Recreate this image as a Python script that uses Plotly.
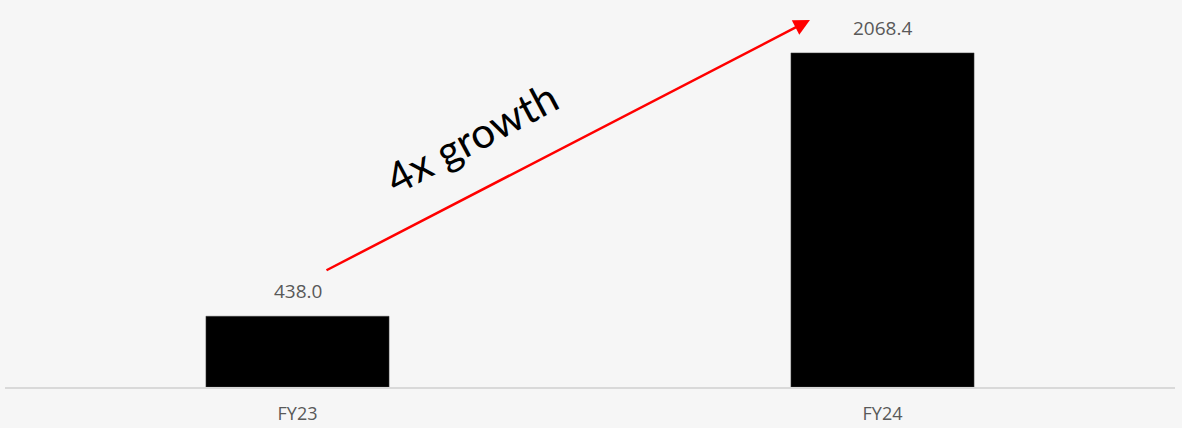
import plotly.graph_objects as go

categories = ["FY23", "FY24"]
values = [438.0, 2068.4]
value_labels = ["438.0", "2068.4"]
annotation_text = "4x growth"

fig = go.Figure()
fig.add_trace(go.Bar(
    x=categories, y=values,
    marker=dict(color="#000000", line=dict(color="#404040", width=0.5)),
    width=0.313,
    hoverinfo="skip",
))

for c, v, lab in zip(categories, values, value_labels):
    fig.add_annotation(x=c, y=v, text=lab, showarrow=False, yanchor="bottom", yshift=10,
                       font=dict(family="Open Sans", size=19, color="#595959"))

# growth arrow (data coordinates)
fig.add_annotation(x=0.876, y=2272, ax=0.047, ay=718, xref="x", yref="y", axref="x", ayref="y",
                   text="", showarrow=True, arrowhead=2, arrowsize=1.3, arrowwidth=2.5,
                   arrowcolor="#ff0000")
fig.add_annotation(x=0.298, y=1545, xref="x", yref="y", text=annotation_text, showarrow=False,
                   textangle=-28, font=dict(family="Lato", size=42, color="#000000"))

fig.update_layout(
    width=1182, height=428,
    margin=dict(l=5, r=7, t=0, b=41, autoexpand=False),
    paper_bgcolor="#f6f6f6", plot_bgcolor="#f6f6f6",
    showlegend=False,
    xaxis=dict(type="category", range=[-0.5, 1.5], showgrid=False, zeroline=False,
               showline=True, linecolor="#d9d9d9", linewidth=1.5, ticks="", automargin=False,
               tickfont=dict(family="Open Sans", size=18, color="#595959"), ticklabelstandoff=10),
    yaxis=dict(range=[0, 2396], visible=False, showgrid=False, zeroline=False, automargin=False),
)

fig.write_html("out.html", config={"displayModeBar": False},
               post_script="document.body.style.margin='0';")
